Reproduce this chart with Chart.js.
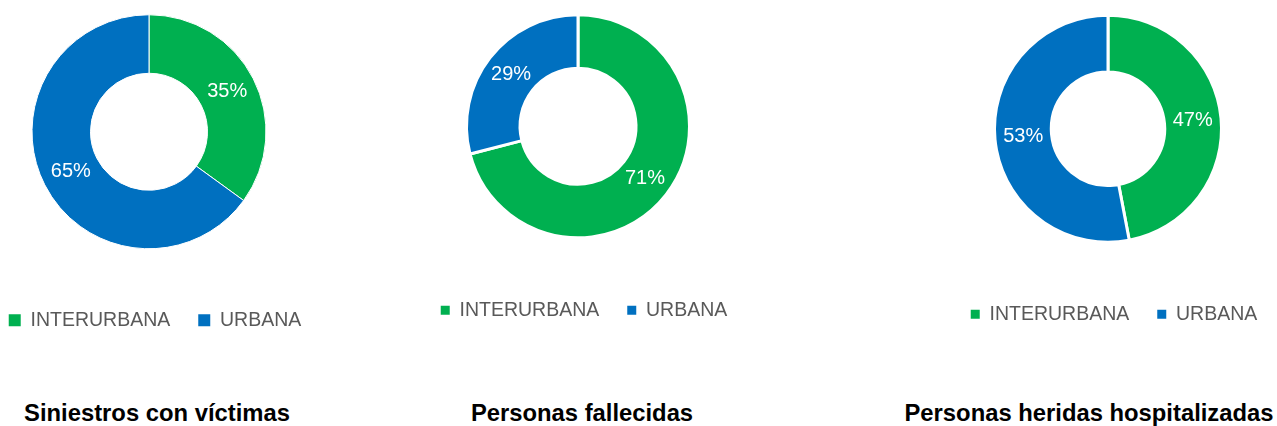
<!DOCTYPE html>
<html>
<head>
<meta charset="utf-8">
<script src="https://cdn.jsdelivr.net/npm/chart.js@4"></script>
<style>
  html, body { margin: 0; padding: 0; background: #fff; }
  body { width: 1277px; height: 426px; position: relative; overflow: hidden; }
  .box { position: absolute; }
  .titulo {
    position: absolute; width: 500px; text-align: center;
    font-family: "Liberation Sans", Arial, sans-serif; font-weight: bold;
    font-size: 23.8px; line-height: 24px; color: #000; top: 401px;
  }
</style>
</head>
<body>
<div class="box" id="b1"><canvas id="c1"></canvas></div>
<div class="box" id="b2"><canvas id="c2"></canvas></div>
<div class="box" id="b3"><canvas id="c3"></canvas></div>
<div class="titulo" id="t1"></div>
<div class="titulo" id="t2"></div>
<div class="titulo" id="t3"></div>
<script>
// datos
const categorias = ["INTERURBANA", "URBANA"];
const colores = ["#00B050", "#0070C0"];
const titulos = ["Siniestros con víctimas", "Personas fallecidas", "Personas heridas hospitalizadas"];
const siniestros = [35, 65];
const fallecidos = [71, 29];
const hospitalizados = [47, 53];

// etiquetas de porcentaje dentro de cada sector
const etiquetasPct = {
  id: "etiquetasPct",
  afterDatasetsDraw(chart) {
    const ctx = chart.ctx;
    const meta = chart.getDatasetMeta(0);
    const datos = chart.data.datasets[0].data;
    const total = datos.reduce((a, b) => a + b, 0);
    ctx.save();
    ctx.fillStyle = "#fff";
    ctx.font = '20px "Liberation Sans", Arial, sans-serif';
    ctx.textAlign = "center";
    ctx.textBaseline = "middle";
    meta.data.forEach((arc, i) => {
      const p = arc.tooltipPosition();
      ctx.fillText(Math.round(datos[i] / total * 100) + "%", p.x, p.y);
    });
    ctx.restore();
  }
};

// la leyenda va un poco a la derecha del centro de la dona
const moverLeyenda = {
  id: "moverLeyenda",
  afterLayout(chart) {
    chart.legend.left += 6;
    chart.legend.right += 6;
  }
};

function dona(id, cajaId, datos, cfg) {
  // cfg: centro x/y, radio, borde, posicion del texto de la leyenda
  const fuente = 19.5, pad = 28;
  const altoLeyenda = fuente + pad + 10;
  const legTop = cfg.leyY - pad - fuente / 2;
  const areaTop = cfg.cy - (legTop - cfg.cy);
  const ancho = 360, alto = (legTop - areaTop) + altoLeyenda;
  const caja = document.getElementById(cajaId);
  caja.style.left = (cfg.cx - ancho / 2) + "px";
  caja.style.top = areaTop + "px";
  caja.style.width = ancho + "px";
  caja.style.height = alto + "px";

  new Chart(document.getElementById(id), {
    type: "doughnut",
    data: {
      labels: categorias,
      datasets: [{
        data: datos,
        backgroundColor: colores,
        borderColor: "#fff",
        borderWidth: cfg.borde
      }]
    },
    options: {
      responsive: true,
      maintainAspectRatio: false,
      animation: false,
      radius: cfg.r + cfg.borde / 2,
      cutout: cfg.cutout,
      layout: { padding: 0 },
      plugins: {
        tooltip: { enabled: false },
        legend: {
          position: "bottom",
          labels: {
            color: "#595959",
            font: { family: '"Liberation Sans", Arial, sans-serif', size: fuente },
            boxWidth: cfg.cuadro,
            boxHeight: cfg.cuadro,
            padding: pad,
            generateLabels(chart) {
              const items = Chart.overrides.doughnut.plugins.legend.labels.generateLabels(chart);
              items.forEach(it => { it.lineWidth = 0; });
              return items;
            }
          }
        }
      }
    },
    plugins: [etiquetasPct, moverLeyenda]
  });
}

dona("c1", "b1", siniestros, { cx: 148.5, cy: 131.5, r: 116.5, borde: 1, cutout: "50%", leyY: 320, cuadro: 12 });
dona("c2", "b2", fallecidos, { cx: 578, cy: 126.5, r: 110, borde: 3, cutout: "52%", leyY: 310.5, cuadro: 9 });
dona("c3", "b3", hospitalizados, { cx: 1107.5, cy: 128.5, r: 112, borde: 3, cutout: "50%", leyY: 314, cuadro: 9 });

const centrosTitulo = [157, 582, 1089];
titulos.forEach((t, i) => {
  const d = document.getElementById("t" + (i + 1));
  d.textContent = t;
  d.style.left = (centrosTitulo[i] - 250) + "px";
});
</script>
</body>
</html>
